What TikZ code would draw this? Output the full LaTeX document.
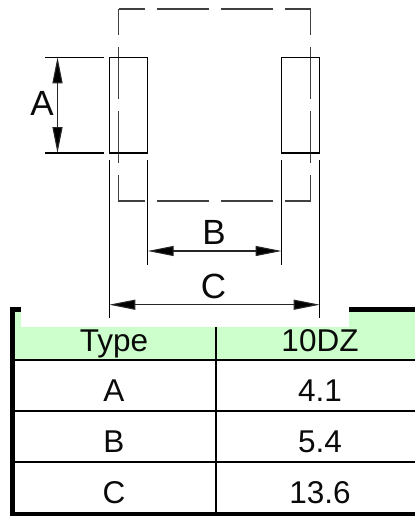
\documentclass[tikz,border=0pt]{standalone}
\usepackage{fontspec}
\setmainfont{Liberation Sans}
\usetikzlibrary{arrows.meta}
\definecolor{rowgreen}{HTML}{CCFFCC}
\definecolor{inkc}{HTML}{0A0A0A}
\tikzset{
  thinline/.style={line width=1.1pt,draw=black},
  outlinebox/.style={thinline,line join=miter},
  hiddenbox/.style={line width=1.15pt,draw=black!75,dash pattern=on 52pt off 12pt,dash phase=26pt},
  dimline/.style={line width=1.1pt,draw=black!85,{Triangle[length=26pt,width=10pt,fill=black]}-{Triangle[length=26pt,width=10pt,fill=black]}},
  dimlabel/.style={anchor=base,inner sep=0pt,text=inkc,font=\fontsize{35pt}{35pt}\selectfont},
  celltext/.style={anchor=base,inner sep=0pt,text=inkc,font=\fontsize{31.5pt}{31.5pt}\selectfont},
  gridline/.style={line width=1.6pt,draw=black},
  heavyline/.style={line width=5pt,draw=black},
}
\begin{document}
\begin{tikzpicture}[x=1pt,y=-1pt]
\useasboundingbox (0,0) rectangle (415,516);
% table shading
\fill[rowgreen] (15,312) rectangle (415,359.5);
\fill[white] (21,307) rectangle (349,327);
% table rules
\coordinate (tl) at (12.7,307);
\coordinate (tlstub) at (21,309.5);
\coordinate (bl) at (12.7,516);
\coordinate (blh) at (10.2,514);
\coordinate (brh) at (415,514);
\coordinate (trs) at (349,309.5);
\coordinate (tre) at (415,309.5);
\coordinate (stubs) at (10.2,309.5);
\draw[heavyline] (tl) -- (bl);
\draw[heavyline] (stubs) -- (tlstub);
\draw[heavyline] (trs) -- (tre);
\draw[heavyline] (blh) -- (brh);
\coordinate (r1l) at (15,360);  \coordinate (r1r) at (415,360);
\coordinate (r2l) at (15,411);  \coordinate (r2r) at (415,411);
\coordinate (r3l) at (15,462);  \coordinate (r3r) at (415,462);
\coordinate (coltop) at (216,327); \coordinate (colbot) at (216,512);
\draw[gridline] (r1l) -- (r1r);
\draw[gridline] (r2l) -- (r2r);
\draw[gridline] (r3l) -- (r3r);
\draw[gridline] (coltop) -- (colbot);
% table text
\node[celltext] (hType) at (114,351.7) {Type};
\node[celltext] (hDZ) at (320,351.7) {10DZ};
\node[celltext] (cA) at (114,401.7) {A};
\node[celltext] (vA) at (320,401.7) {4.1};
\node[celltext] (cB) at (114,452.5) {B};
\node[celltext] (vB) at (320,452.5) {5.4};
\node[celltext] (cC) at (114,503.3) {C};
\node[celltext] (vC) at (320,503.3) {13.6};
% hidden outline
\draw[hiddenbox] (118.5,9) -- (310.5,9) -- (310.5,201) -- (118.5,201) -- cycle;
% pads
\draw[outlinebox] (109.3,57.3) rectangle (147.7,153);
\draw[outlinebox] (281.5,57.3) rectangle (319.7,153);
% extension lines
\coordinate (aTopL) at (45,57.3);   \coordinate (aTopR) at (104,57.3);
\coordinate (aBotL) at (45,153);    \coordinate (aBotR) at (104,153);
\coordinate (cLt) at (109.3,160);   \coordinate (cLb) at (109.3,318);
\coordinate (bLt) at (147.7,160);   \coordinate (bLb) at (147.7,264.5);
\coordinate (bRt) at (281.5,160);   \coordinate (bRb) at (281.5,264.5);
\coordinate (cRt) at (319.7,160);   \coordinate (cRb) at (319.7,318);
\draw[thinline] (aTopL) -- (aTopR);
\draw[thinline] (aBotL) -- (aBotR);
\draw[thinline] (cLt) -- (cLb);
\draw[thinline] (bLt) -- (bLb);
\draw[thinline] (bRt) -- (bRb);
\draw[thinline] (cRt) -- (cRb);
% dimensions
\coordinate (aUp) at (57.5,57.3);  \coordinate (aDn) at (57.5,153);
\coordinate (bL) at (147.7,251);   \coordinate (bR) at (281.5,251);
\coordinate (cL) at (109.3,304.7); \coordinate (cR) at (319.7,304.7);
\draw[dimline] (aUp) -- (aDn);
\draw[dimline] (bL) -- (bR);
\draw[dimline] (cL) -- (cR);
\node[dimlabel] (lA) at (42,115) {A};
\node[dimlabel] (lB) at (214,244) {B};
\node[dimlabel] (lC) at (213.5,298) {C};
\end{tikzpicture}
\end{document}
